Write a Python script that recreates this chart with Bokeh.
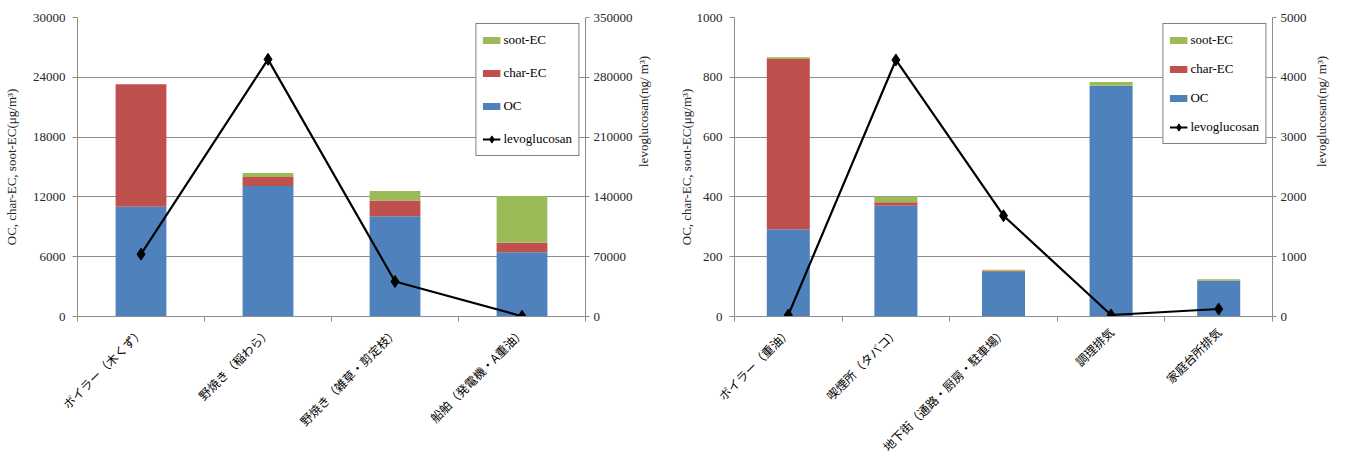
import math
from bokeh.plotting import figure
from bokeh.layouts import row
from bokeh.models import (Range1d, LinearAxis, FixedTicker, NumeralTickFormatter,
                          Legend, LegendItem, ColumnDataSource)
from bokeh.embed import file_html
from bokeh.resources import INLINE

# ---------------- data ----------------
left_categories = ["ボイラー（木くず）", "野焼き（稲わら）", "野焼き（雑草・剪定枝）", "船舶（発電機・A重油）"]
left_oc = [11000, 13100, 10050, 6450]
left_char_ec = [12300, 900, 1600, 950]
left_soot_ec = [0, 400, 950, 4700]
left_levoglucosan = [73000, 301000, 41000, 300]
left_y_ticks = [0, 6000, 12000, 18000, 24000, 30000]
left_levo_ticks = [0, 70000, 140000, 210000, 280000, 350000]

right_categories = ["ボイラー（重油）", "喫煙所（タバコ）", "地下街（通路・厨房・駐車場）", "調理排気", "家庭台所排気"]
right_oc = [292, 370, 150, 771, 119]
right_char_ec = [569, 12, 3, 1, 1]
right_soot_ec = [6, 19, 3, 12, 5]
right_levoglucosan = [25, 4290, 1685, 25, 125]
right_y_ticks = [0, 200, 400, 600, 800, 1000]
right_levo_ticks = [0, 1000, 2000, 3000, 4000, 5000]

OC_COLOR = "#4F81BD"
CHAR_COLOR = "#C0504D"
SOOT_COLOR = "#9BBB59"
AXIS_GREY = "#8C8C8C"
TEXT_COLOR = "#262626"
SERIF = "Liberation Serif"
JP = "Noto Sans CJK JP"


def style_axis(ax, ticks, tick_out, standoff, label_standoff):
    ax.ticker = FixedTicker(ticks=ticks)
    ax.formatter = NumeralTickFormatter(format="0")
    ax.axis_line_color = AXIS_GREY
    ax.major_tick_line_color = AXIS_GREY
    ax.minor_tick_line_color = None
    ax.major_tick_out = tick_out
    ax.major_tick_in = 0
    ax.major_label_standoff = standoff
    ax.major_label_text_font = SERIF
    ax.major_label_text_font_size = "13px"
    ax.major_label_text_color = TEXT_COLOR
    ax.axis_label_text_font = SERIF
    ax.axis_label_text_font_size = "13px"
    ax.axis_label_text_font_style = "normal"
    ax.axis_label_text_color = TEXT_COLOR
    ax.axis_label_standoff = label_standoff


def make_chart(cats, oc, char, soot, levo, y_ticks, levo_ticks,
               width, height, borders, legend_padding, legend_spacing,
               left_std, right_std):
    n = len(cats)
    xs = list(range(n))
    src = ColumnDataSource(dict(x=xs, OC=oc, char=char, soot=soot, levo=levo))
    p = figure(width=width, height=height, x_range=Range1d(-0.5, n - 0.5),
               y_range=Range1d(0, y_ticks[-1]), output_backend="svg",
               toolbar_location=None,
               min_border_left=borders[0], min_border_right=borders[1],
               min_border_top=borders[2], min_border_bottom=borders[3])
    p.extra_y_ranges = {"levo": Range1d(0, levo_ticks[-1])}
    p.outline_line_color = None
    p.background_fill_color = "white"
    p.border_fill_color = "white"

    p.vbar_stack(["OC", "char", "soot"], x="x", width=0.4, source=src,
                 color=[OC_COLOR, CHAR_COLOR, SOOT_COLOR], line_color=None)
    r_line = p.line("x", "levo", source=src, y_range_name="levo",
                    line_color="black", line_width=2.2)
    r_pts = p.scatter("x", "levo", source=src, y_range_name="levo", marker="diamond",
                      size=12, fill_color="black", line_color="black")

    # legend swatches: thick short lines placed outside the visible range
    sw = {}
    for name, col in [("soot", SOOT_COLOR), ("char", CHAR_COLOR), ("oc", OC_COLOR)]:
        sw[name] = p.line(x=[-5, -4], y=[-10, -10], line_color=col, line_width=7,
                          line_cap="butt")

    # value axes
    style_axis(p.yaxis[0], y_ticks, 5, 7, left_std)
    p.yaxis[0].axis_label = "OC, char-EC, soot-EC(μg/m³)"
    rax = LinearAxis(y_range_name="levo", axis_label="levoglucosan(ng/ m³)")
    style_axis(rax, levo_ticks, 4, 4, right_std)
    rax.axis_label_orientation = math.pi / 2
    p.add_layout(rax, "right")

    # category axis: labels at bar centres, small ticks at category boundaries
    xa = p.xaxis[0]
    xa.ticker = FixedTicker(ticks=xs, minor_ticks=[i - 0.5 for i in range(n + 1)])
    xa.major_label_overrides = {i: c for i, c in enumerate(cats)}
    xa.major_label_orientation = math.pi / 4
    xa.major_label_text_font = JP
    xa.major_label_text_font_size = "12px"
    xa.major_label_text_color = "black"
    xa.major_label_standoff = 8
    xa.axis_line_color = AXIS_GREY
    xa.major_tick_line_color = None
    xa.major_tick_out = 0
    xa.major_tick_in = 0
    xa.minor_tick_line_color = AXIS_GREY
    xa.minor_tick_out = 5
    xa.minor_tick_in = 0

    p.xgrid.visible = False
    p.ygrid.ticker = FixedTicker(ticks=y_ticks)
    p.ygrid.grid_line_color = AXIS_GREY
    p.ygrid.grid_line_width = 1

    legend = Legend(items=[
        LegendItem(label="soot-EC", renderers=[sw["soot"]]),
        LegendItem(label="char-EC", renderers=[sw["char"]]),
        LegendItem(label="OC", renderers=[sw["oc"]]),
        LegendItem(label="levoglucosan", renderers=[r_line, r_pts]),
    ], location="top_right", margin=6, padding=legend_padding, spacing=legend_spacing,
        glyph_width=18, glyph_height=20, label_height=20, label_standoff=3,
        label_text_font=SERIF, label_text_font_size="13px", label_text_color="black",
        border_line_color="black", border_line_width=1.5,
        background_fill_color="white", background_fill_alpha=1)
    p.add_layout(legend)
    return p


p1 = make_chart(left_categories, left_oc, left_char_ec, left_soot_ec, left_levoglucosan,
                left_y_ticks, left_levo_ticks,
                width=672, height=463, borders=(73, 87, 17, 146),
                legend_padding=6, legend_spacing=13,
                left_std=11, right_std=8)
p2 = make_chart(right_categories, right_oc, right_char_ec, right_soot_ec, right_levoglucosan,
                right_y_ticks, right_levo_ticks,
                width=668, height=463, borders=(62, 68, 17, 146),
                legend_padding=6, legend_spacing=9,
                left_std=0, right_std=12)

layout = row(p1, p2, spacing=0)
open("out.html", "w").write(file_html(layout, INLINE))
